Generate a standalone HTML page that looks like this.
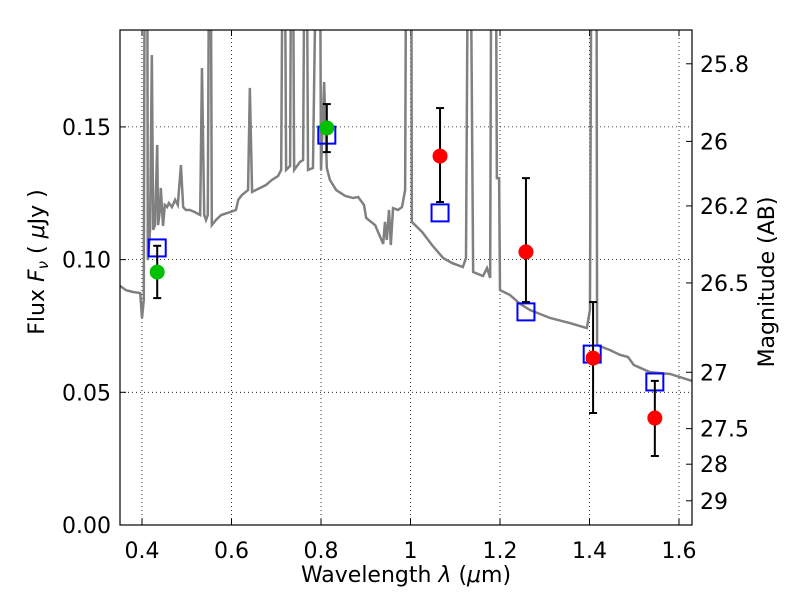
<!DOCTYPE html>
<html><head><meta charset="utf-8"><style>
body{margin:0;background:#fff;}
svg text{font-family:"DejaVu Sans","Liberation Sans",sans-serif;font-size:22px;fill:#000;}
</style></head><body>
<svg id="c" width="800" height="600"></svg>
<script>
const specWl=[.351,.364,.380,.396,.400,.404,.407,.411,.413,.418,.422,.425,.429,.434,.436,.440,.442,.447,.451,.456,.460,.467,.474,.480,.487,.492,.498,.507,.518,.530,.534,.539,.543,.547,.552,.556,.565,.577,.597,.610,.615,.623,.637,.641,.646,.659,.677,.690,.704,.711,.717,.722,.731,.735,.740,.753,.760,.766,.771,.782,.796,.800,.807,.813,.820,.834,.854,.872,.883,.896,.901,.921,.939,.943,.947,.952,.956,.961,.972,.981,.988,.992,1.001,1.003,1.026,1.048,1.073,1.093,1.117,1.124,1.131,1.140,1.162,1.171,1.178,1.182,1.189,1.193,1.198,1.200,1.222,1.245,1.267,1.312,1.356,1.394,1.401,1.406,1.415,1.417,1.446,1.468,1.486,1.499,1.535,1.580,1.629];
const specFlux=[.0901,.0885,.0878,.0874,.0780,.0848,.30,.30,.0998,.1112,.1771,.1112,.1130,.1432,.1130,.1187,.1270,.1127,.1206,.1198,.1213,.1198,.1225,.1206,.1356,.1198,.1187,.1187,.1179,.1168,.1722,.1168,.1149,.1168,.30,.1130,.1149,.1168,.1179,.1187,.1225,.1243,.1262,.1647,.1255,.1266,.1281,.1300,.1315,.1338,.30,.1338,.1353,.30,.1338,.1368,.1375,.30,.1338,.1345,.30,.1338,.1669,.1345,.1300,.1262,.1240,.1232,.1236,.1206,.1157,.1130,.1059,.1142,.1074,.1187,.1055,.1194,.1187,.1198,.1262,.30,.30,.1142,.1104,.1055,.1006,.0987,.0972,.1006,.30,.0953,.0938,.0968,.0931,.30,.30,.1307,.1307,.0885,.0867,.0833,.0810,.0780,.0761,.0742,.0810,.30,.30,.0678,.0659,.0641,.0633,.0603,.0576,.0569,.0543];
const greenWl=[.434,.813], greenFlux=[.0953,.1496], greenLo=[.0855,.1405], greenHi=[.1052,.1586];
const redWl=[1.066,1.258,1.408,1.546], redFlux=[.1390,.1029,.0629,.0403], redLo=[.1217,.0840,.0422,.0260], redHi=[.1571,.1307,.0840,.0543];
const blueWl=[.434,.813,1.066,1.258,1.406,1.546], blueFlux=[.1044,.1469,.1176,.0803,.0644,.0539];
const xTicks=[0.4,0.6,0.8,1.0,1.2,1.4,1.6], xLabels=["0.4","0.6","0.8","1","1.2","1.4","1.6"];
const yTicks=[0,0.05,0.10,0.15], yLabels=["0.00","0.05","0.10","0.15"];
const magTicks=[25.8,26,26.2,26.5,27,27.5,28,29];

const L=120,R=692,T=30,B=525;
const X=w=>142+(w-0.4)*447.5, Y=f=>525-f*2654;
const NS="http://www.w3.org/2000/svg", svg=document.getElementById('c');
function mk(t,a,p){const e=document.createElementNS(NS,t);for(const k in a)e.setAttribute(k,a[k]);(p||svg).appendChild(e);return e;}
const defs=mk('defs',{});const cp=mk('clipPath',{id:'cp'},defs);mk('rect',{x:L,y:T,width:R-L,height:B-T},cp);
xTicks.forEach((t,i)=>{const g=mk('line',{x1:X(t),x2:X(t),y1:T,y2:B,stroke:'#000','stroke-width':0.8,'stroke-dasharray':'1,3'});

mk('line',{x1:X(t),x2:X(t),y1:B,y2:B-6,stroke:'#000'});
mk('line',{x1:X(t),x2:X(t),y1:T,y2:T+6,stroke:'#000'});
const tx=mk('text',{x:X(t),y:B+33,'text-anchor':'middle'});tx.textContent=xLabels[i];
});
yTicks.forEach((t,i)=>{if(t>0){const g=mk('line',{x1:L,x2:R,y1:Y(t),y2:Y(t),stroke:'#000','stroke-width':0.8,'stroke-dasharray':'1,3'});
}
mk('line',{x1:L,x2:L+6,y1:Y(t),y2:Y(t),stroke:'#000'});
const tx=mk('text',{x:L-9,y:Y(t)+8,'text-anchor':'end'});tx.textContent=yLabels[i];
});
magTicks.forEach(m=>{const y=Y(Math.pow(10,(23.9-m)/2.5));
mk('line',{x1:R,x2:R-6,y1:y,y2:y,stroke:'#000'});
const tx=mk('text',{x:R+8,y:y+8});tx.textContent=String(m);
});
const sp=mk('polyline',{points:specWl.map((w,i)=>X(w)+','+Y(specFlux[i])).join(' '),fill:'none',stroke:'#808080','stroke-width':2.5,'clip-path':'url(#cp)'});

function err(w,lo,hi,nm){const g=mk('g',{stroke:'#000','stroke-width':2});
mk('line',{x1:X(w),x2:X(w),y1:Y(lo),y2:Y(hi)},g);mk('line',{x1:X(w)-4,x2:X(w)+4,y1:Y(lo),y2:Y(lo)},g);mk('line',{x1:X(w)-4,x2:X(w)+4,y1:Y(hi),y2:Y(hi)},g);}
blueWl.forEach((w,i)=>{const r=mk('rect',{x:X(w)-8.5,y:Y(blueFlux[i])-8.5,width:17,height:17,fill:'none',stroke:'#0000ff','stroke-width':2});
});
greenWl.forEach((w,i)=>{err(w,greenLo[i],greenHi[i],'green-error-bar');const c=mk('circle',{cx:X(w),cy:Y(greenFlux[i]),r:7.5,fill:'#00c000'});
});
redWl.forEach((w,i)=>{err(w,redLo[i],redHi[i],'red-error-bar');const c=mk('circle',{cx:X(w),cy:Y(redFlux[i]),r:7.5,fill:'#ff0000'});
});
const fr=mk('rect',{x:L,y:T,width:R-L,height:B-T,fill:'none',stroke:'#000','stroke-width':1.2});

const xl=mk('text',{x:406,y:582,'text-anchor':'middle'});xl.innerHTML='Wavelength  <tspan font-style="italic">λ</tspan> (<tspan font-style="italic">μ</tspan>m)';

const yl=mk('text',{x:0,y:0,'text-anchor':'middle',transform:'translate(44,262) rotate(-90)'});yl.innerHTML='Flux  <tspan font-style="italic">F</tspan><tspan font-style="italic" font-size="15" dy="4">ν</tspan><tspan dy="-4">  (  </tspan><tspan font-style="italic">μ</tspan>Jy )';

const rl=mk('text',{x:0,y:0,'text-anchor':'middle',transform:'translate(774,282) rotate(-90)'});rl.textContent='Magnitude (AB)';

</script>
</body></html>
